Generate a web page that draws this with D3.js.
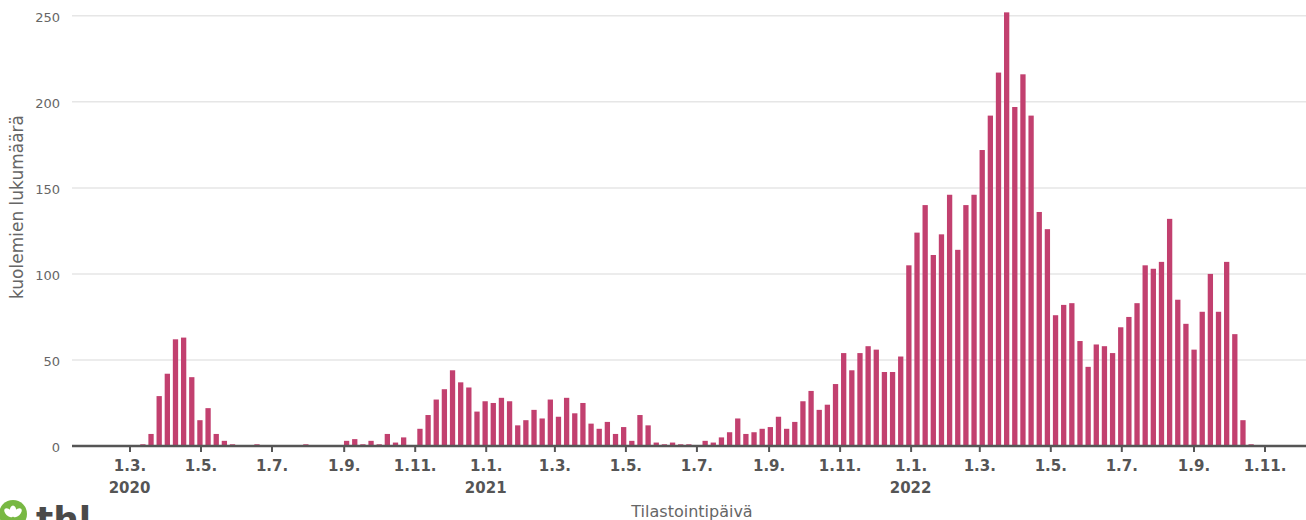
<!DOCTYPE html>
<html><head><meta charset="utf-8">
<script src="https://cdn.jsdelivr.net/npm/d3@7"></script>
<style>html,body{margin:0;padding:0;background:#fff;overflow:hidden}</style>
</head><body>
<svg id="chart" width="1306" height="520"></svg>
<script>
// ISO week 1 Mondays
const week1Monday2020 = "2019-12-30";
const week1Monday2021 = "2021-01-04";
const week1Monday2022 = "2022-01-03";

// Weekly deaths by ISO week (index 0 = week 1)
const deaths2020 = [0,0,0,0,0,0,0,0,0,0,
  1,7,29,42,62,63,40,15,22,7,
  3,1,0,0,1,0,0,0,0,0,
  1,0,0,0,0,3,4,1,3,1,
  7,2,5,0,10,18,27,33,44,37,
  34,20,26];
const deaths2021 = [25,28,26,12,15,21,16,27,17,28,
  19,25,13,10,14,7,11,3,18,12,
  2,1,2,1,1,0,3,2,5,8,
  16,7,8,10,11,17,10,14,26,32,
  21,24,36,54,44,54,58,56,43,43,
  52,105];
const deaths2022 = [124,140,111,123,146,114,140,146,172,192,
  217,252,197,216,192,136,126,76,82,83,
  61,46,59,58,54,69,75,83,105,103,
  107,132,85,71,56,78,100,78,107,65,
  15,1];

const yTicks = [0,50,100,150,200,250];
const xTickDates = ["2020-03-01","2020-05-01","2020-07-01","2020-09-01","2020-11-01",
  "2021-01-01","2021-03-01","2021-05-01","2021-07-01","2021-09-01","2021-11-01",
  "2022-01-01","2022-03-01","2022-05-01","2022-07-01","2022-09-01","2022-11-01"];
const yearLabelTexts = ["2020","2021","2022"];
const yearLabelDates = ["2020-03-01","2021-01-01","2022-01-01"];
const yTitle = "kuolemien lukumäärä";
const xTitle = "Tilastointipäivä";

const DAY = 86400000;
const parse = s => new Date(s + "T00:00:00Z");
function weeks(mondayStr, vals){
  const m0 = parse(mondayStr).getTime();
  return vals.map((v,i)=>({monday:new Date(m0 + 7*i*DAY), value:v}));
}
const data = [...weeks(week1Monday2020,deaths2020), ...weeks(week1Monday2021,deaths2021), ...weeks(week1Monday2022,deaths2022)];

const svg = d3.select("#chart");
const plotLeft = 72, plotRight = 1306;
const x = d3.scaleUtc().domain([parse("2020-03-01"), parse("2022-11-01")]).range([129.5, 1264.5]);
const y = d3.scaleLinear().domain([0,250]).range([446, 15.8]);

const font = "'DejaVu Sans', sans-serif";

// gridlines
svg.append("g").selectAll("line").data(yTicks.filter(d=>d>0)).join("line")
  .attr("x1", plotLeft).attr("x2", plotRight)
  .attr("y1", d=>y(d)).attr("y2", d=>y(d))
  .attr("stroke", "#e6e6e6").attr("stroke-width", 1.5);

// y axis labels
const yAxis = svg.append("g").attr("transform", `translate(${plotLeft},0)`)
  .call(d3.axisLeft(y).tickValues(yTicks).tickSize(0).tickPadding(12));
yAxis.select(".domain").remove();
yAxis.selectAll("text").attr("font-family", font).attr("font-size", 13)
  .attr("fill", "#666").attr("dy", "0.45em");

// bars
const barW = 5.3;
svg.append("g").selectAll("rect").data(data.filter(d=>d.value>0)).join("rect")
  .attr("x", d => x(new Date(d.monday.getTime() + 3.5*DAY)) - barW/2)
  .attr("width", barW)
  .attr("y", d => y(d.value))
  .attr("height", d => y(0) - y(d.value))
  .attr("fill", "#c2406f");

// x axis
const xAxis = svg.append("g").attr("transform", `translate(0,${y(0)})`)
  .call(d3.axisBottom(x).tickValues(xTickDates.map(parse)).tickSize(6).tickPadding(8)
    .tickFormat(d => `${d.getUTCDate()}.${d.getUTCMonth()+1}.`));
xAxis.select(".domain").remove();
xAxis.selectAll(".tick line").attr("stroke", "#555").attr("stroke-width", 2);
xAxis.selectAll("text").attr("font-family", font).attr("font-size", 15).attr("font-weight", "bold")
  .attr("fill", "#555");
svg.append("line").attr("x1", plotLeft).attr("x2", plotRight).attr("y1", y(0)).attr("y2", y(0))
  .attr("stroke", "#555").attr("stroke-width", 2.5);

// year labels
svg.append("g").selectAll("text").data(yearLabelTexts).join("text")
  .attr("x", (d,i) => x(parse(yearLabelDates[i])))
  .attr("y", 492.5)
  .attr("text-anchor", "middle")
  .attr("font-family", font).attr("font-size", 15).attr("font-weight", "bold").attr("fill", "#555")
  .text(d => d);

// axis titles
svg.append("text").attr("transform", "translate(23,207) rotate(-90)")
  .attr("text-anchor", "middle").attr("font-family", font).attr("font-size", 17).attr("fill", "#666")
  .text(yTitle);
svg.append("text").attr("x", 692).attr("y", 517)
  .attr("text-anchor", "middle").attr("font-family", font).attr("font-size", 16).attr("fill", "#666")
  .text(xTitle);

// thl logo
const logo = svg.append("g");
logo.append("circle").attr("cx", 13).attr("cy", 514).attr("r", 14).attr("fill", "#78b843");
[[-45],[0],[45]].forEach(([a])=>{
  logo.append("ellipse").attr("cx", 0).attr("cy", -6).attr("rx", 3.2).attr("ry", 5.5)
    .attr("fill", "#fff").attr("transform", `translate(13,517) rotate(${a})`);
});
logo.append("text").attr("x", 36).attr("y", 532).attr("font-family", font)
  .attr("font-size", 36).attr("font-weight", "bold").attr("fill", "#4a4a4a").text("thl");
</script>
</body></html>
